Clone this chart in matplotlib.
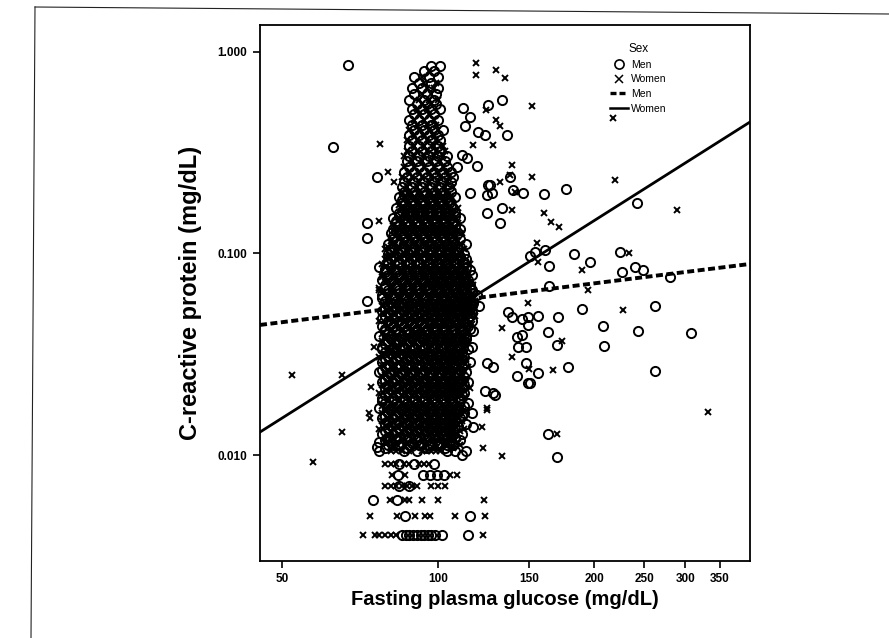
import matplotlib
matplotlib.use('Agg')
import matplotlib.pyplot as plt
from matplotlib.lines import Line2D

plt.rcParams['font.family'] = ['Liberation Sans', 'DejaVu Sans']

# ---------------- data ----------------
x_ticks = [50, 100, 150, 200, 250, 300, 350]
x_tick_labels = ['50', '100', '150', '200', '250', '300', '350']
y_ticks = [0.01, 0.1, 1.0]
y_tick_labels = ['0.010', '0.100', '1.000']
x_limits = [45.3, 400]
y_limits = [0.00298, 1.36]

# scattered men (circles)
men_glucose = [67.1, 62.7, 76.2, 132.9, 124.9, 111.8, 115.3, 112.7, 119.5, 123.2, 135.9, 111.3,
               113.8, 118.9, 108.8, 106.9, 124.9, 124.4, 137.7, 115.3, 145.9, 139.5, 132.9, 124.4,
               126.0, 127.1, 160.2, 176.6, 242.1, 131.7, 150.5, 153.9, 160.9, 163.8, 183.0, 196.6,
               224.5, 240.0, 248.6, 226.5, 280.4, 163.8, 189.6, 262.3, 136.5, 138.9, 145.2, 149.1,
               156.0, 170.4, 149.1, 208.2, 243.2, 307.7, 163.1, 142.1, 145.2, 169.7, 142.6, 147.5,
               209.1, 147.5, 156.0, 142.1, 178.2, 149.1, 150.5, 262.3, 123.2, 128.8, 163.1, 169.7,
               124.4, 127.7, 127.7, 116.3, 116.8, 72.9, 72.9, 76.9, 79.0, 72.9, 76.9, 80.8, 76.2,
               111.3, 106.9]
men_crp = [0.862, 0.338, 0.240, 0.578, 0.546, 0.527, 0.476, 0.430, 0.401, 0.387, 0.387, 0.308,
           0.298, 0.272, 0.269, 0.240, 0.219, 0.195, 0.240, 0.200, 0.200, 0.207, 0.168, 0.159,
           0.219, 0.200, 0.197, 0.209, 0.178, 0.142, 0.0972, 0.1017, 0.1041, 0.0867, 0.0994, 0.0907,
           0.1017, 0.0857, 0.0829, 0.0810, 0.0764, 0.0690, 0.0530, 0.0549, 0.0513, 0.0484, 0.0473, 0.0484,
           0.0490, 0.0484, 0.0442, 0.0437, 0.0412, 0.0403, 0.0408, 0.0385, 0.0394, 0.0351, 0.0343, 0.0343,
           0.0348, 0.0286, 0.0255, 0.0247, 0.0273, 0.0228, 0.0228, 0.0261, 0.0208, 0.0199, 0.0127, 0.0098,
           0.0286, 0.0273, 0.0204, 0.0162, 0.0138, 0.1417, 0.1194, 0.0857, 0.0838, 0.0581, 0.0116, 0.0119, 0.0110,
           0.0100, 0.0114]

# scattered women (crosses)
women_glucose = [77.3, 80.1, 82.3, 118.4, 118.4, 129.4, 134.7, 123.8, 151.9, 129.4, 131.7, 116.8,
                 127.7, 138.9, 137.7, 131.7, 151.9, 138.9, 140.8, 219.5, 289.2, 160.2, 165.2, 171.2,
                 155.3, 156.0, 189.6, 233.7, 194.8, 149.1, 227.5, 132.9, 173.5, 138.9, 149.8, 166.7,
                 124.4, 331.9, 169.7, 132.9, 122.2, 121.6, 76.9, 79.7, 76.9, 75.2, 65.3, 74.3, 73.6,
                 74.0, 65.3, 124.4, 52.3, 57.4, 217.7]
women_crp = [0.3495, 0.2538, 0.2264, 0.882, 0.769, 0.814, 0.743, 0.516, 0.540, 0.460, 0.430, 0.3455,
             0.3455, 0.275, 0.245, 0.226, 0.240, 0.164, 0.202, 0.232, 0.164, 0.159, 0.1433, 0.1353,
             0.1127, 0.0907, 0.0828, 0.1006, 0.0659, 0.0568, 0.0525, 0.0427, 0.0368, 0.0306, 0.0267, 0.0265,
             0.0167, 0.0163, 0.0127, 0.0099, 0.0108, 0.0138, 0.145, 0.0972, 0.0674, 0.0343, 0.0249, 0.0218, 0.0162,
             0.0153, 0.0130, 0.0171, 0.0249, 0.0092, 0.470]

# dense core of the cloud: (CRP, men glucose values, women glucose values)
core_rows = [
    (0.0105, "77 86 91 104 108 113", "81 83 85 88 93 95 97 99 101"),
    (0.0112, "80 84 88 92 96 100 104 107", "82 86 90 94 98 102 110"),
    (0.0119, "79 83 87 91 95 99 103 106 110", "81 85 89 93 97 101 105 108"),
    (0.0127, "78 82 86 90 94 98 102 106 111", "80 84 88 92 96 100 104 108"),
    (0.0135, "80 84 88 92 96 100 104 108", "77 82 86 90 94 98 102 106 112"),
    (0.0143, "79 83 87 91 95 99 103 107 113", "81 85 89 93 97 101 105 109"),
    (0.0152, "78 82 86 90 94 98 102 106 110", "80 84 88 92 96 100 104 108"),
    (0.0161, "80 84 88 92 96 100 104 108 112", "78 82 86 90 94 98 102 106 110"),
    (0.0171, "77 81 85 89 93 97 101 105 109", "79 83 87 91 95 99 103 107 111"),
    (0.0181, "79 83 87 91 95 99 103 107 114", "81 85 89 93 97 101 105 109"),
    (0.0192, "78 82 86 90 94 98 102 106 110", "80 84 88 92 96 100 104 108 112"),
    (0.0204, "80 84 88 92 96 100 104 108 112", "77 82 86 90 94 98 102 106 110"),
    (0.0216, "79 83 87 91 95 99 103 107 111", "81 85 89 93 97 101 105 109 115"),
    (0.0229, "78 82 86 90 94 98 102 106 110 114", "80 84 88 92 96 100 104 108 112"),
    (0.0243, "80 84 88 92 96 100 104 108 112", "78 82 86 90 94 98 102 106 110"),
    (0.0258, "77 81 85 89 93 97 101 105 109 113", "79 83 87 91 95 99 103 107 111"),
    (0.0273, "79 83 87 91 95 99 103 107 111", "81 85 89 93 97 101 105 109 114"),
    (0.0290, "78 82 86 90 94 98 102 106 110 115", "80 84 88 92 96 100 104 108 112"),
    (0.0307, "80 84 88 92 96 100 104 108 112", "77 82 86 90 94 98 102 106 110"),
    (0.0326, "79 83 87 91 95 99 103 107 111", "81 85 89 93 97 101 105 109 113"),
    (0.0345, "78 82 86 90 94 98 102 106 110 116", "80 84 88 92 96 100 104 108 112"),
    (0.0366, "80 84 88 92 96 100 104 108 112", "78 82 86 90 94 98 102 106 110 114"),
    (0.0388, "77 81 85 89 93 97 101 105 109 113", "79 83 87 91 95 99 103 107 111"),
    (0.0411, "79 83 87 91 95 99 103 107 111 117", "81 85 89 93 97 101 105 109 114"),
    (0.0436, "78 82 86 90 94 98 102 106 110 114", "80 84 88 92 96 100 104 108 112"),
    (0.0462, "80 84 88 92 96 100 104 108 112 116", "77 82 86 90 94 98 102 106 110"),
    (0.0490, "79 83 87 91 95 99 103 107 111 115", "81 85 89 93 97 101 105 109 113 118"),
    (0.0520, "78 82 86 90 94 98 102 106 110 114", "80 84 88 92 96 100 104 108 112 117"),
    (0.0550, "80 84 88 92 96 100 104 108 112 116 120", "78 82 86 90 94 98 102 106 110 114"),
    (0.0584, "79 83 87 91 95 99 103 107 111 115", "81 85 89 93 97 101 105 109 113 118"),
    (0.0620, "78 82 86 90 94 98 102 106 110 114 119", "80 84 88 92 96 100 104 108 112 116"),
    (0.0657, "80 84 88 92 96 100 104 108 112 116", "77 82 86 90 94 98 102 106 110 114"),
    (0.0697, "79 83 87 91 95 99 103 107 111 115", "81 85 89 93 97 101 105 109 113 117"),
    (0.0739, "78 82 86 90 94 98 102 106 110 114", "80 84 88 92 96 100 104 108 112"),
    (0.0784, "80 84 88 92 96 100 104 108 112 116", "78 82 86 90 94 98 102 106 110 114"),
    (0.0831, "79 83 87 91 95 99 103 107 111 115", "81 85 89 93 97 101 105 109 113"),
    (0.0882, "80 84 88 92 96 100 104 108 112", "78 82 86 90 94 98 102 106 110 115"),
    (0.0935, "81 85 89 93 97 101 105 109 113", "79 83 87 91 95 99 103 107 111"),
    (0.0992, "80 84 88 92 96 100 104 108 112", "82 86 90 94 98 102 106 110"),
    (0.105, "81 85 89 93 97 101 105 109", "79 83 87 91 95 99 103 107 112"),
    (0.112, "80 84 88 92 96 100 104 108 113", "82 86 90 94 98 102 106 110"),
    (0.118, "82 86 90 94 98 102 106 110", "84 88 92 96 100 104 108"),
    (0.126, "81 85 89 93 97 101 105 109", "83 87 91 95 99 103 107 111"),
    (0.133, "82 86 90 94 98 102 106 110", "84 88 92 96 100 104 108"),
    (0.141, "83 87 91 95 99 103 107", "85 89 93 97 101 105 109"),
    (0.150, "82 86 90 94 98 102 106 110", "84 88 92 96 100 104 108"),
    (0.159, "84 88 92 96 100 104 108", "86 90 94 98 102 106"),
    (0.168, "83 87 91 95 99 103 107", "85 89 93 97 101 105 109"),
    (0.179, "85 89 93 97 101 105", "87 91 95 99 103 107"),
    (0.190, "84 88 92 96 100 104 108", "86 90 94 98 102 106"),
    (0.201, "86 90 94 98 102 106", "85 88 92 96 100 104"),
    (0.213, "85 89 93 97 101 105", "87 91 95 99 103 107"),
    (0.226, "86 90 94 98 102 106", "88 92 96 100 104"),
    (0.240, "87 91 95 99 103", "85 89 93 97 101 105"),
    (0.255, "86 90 94 98 102 106", "88 92 96 100 104"),
    (0.270, "88 92 96 100 104", "86 90 94 98 102"),
    (0.287, "87 91 95 99 103", "89 93 97 101"),
    (0.305, "88 92 96 100 104", "86 90 94 98 102"),
    (0.323, "89 93 97 101", "87 91 95 99 103"),
    (0.343, "88 92 96 100", "90 94 98 102"),
    (0.364, "89 93 97 101", "87 91 95 99"),
    (0.386, "88 92 96 100", "90 94 98"),
    (0.410, "90 94 98 102", "88 92 96 100"),
    (0.435, "89 93 97", "91 95 99"),
    (0.460, "88 92 96 100", "90 94 98"),
    (0.490, "90 94 98", "92 96"),
    (0.520, "89 93 97 101", "91 95"),
    (0.550, "91 95 99", "93 97"),
    (0.580, "88 94 98", "92 96 100"),
    (0.620, "90 95 99", "93 97"),
    (0.660, "89 93 100", "95 98"),
    (0.700, "92 97", "94 99"),
    (0.750, "90 96 100", "93"),
    (0.800, "94 98", "96"),
    (0.850, "97 101", ""),
]

# further core points lying between the rows above
core_rows_mid = [
    (0.0108, "79 87 95 103", "83 91 99 107"),
    (0.0115, "81 85 89 93 97 101 105", "79 83 87 91 95 99 103 109"),
    (0.0123, "80 84 88 92 96 100 104 108", "82 86 90 94 98 102 106"),
    (0.0131, "79 83 87 91 95 99 103 107", "81 85 89 93 97 101 105 110"),
    (0.0139, "81 85 89 93 97 101 105 109", "79 83 87 91 95 99 103 107"),
    (0.0147, "80 84 88 92 96 100 104 108", "78 82 86 90 94 98 102 106 111"),
    (0.0156, "79 83 87 91 95 99 103 107 111", "81 85 89 93 97 101 105 109"),
    (0.0166, "81 85 89 93 97 101 105 109", "79 83 87 91 95 99 103 107 113"),
    (0.0176, "80 84 88 92 96 100 104 108 112", "78 82 86 90 94 98 102 106 110"),
    (0.0186, "78 82 86 90 94 98 102 106 110", "80 84 88 92 96 100 104 108"),
    (0.0198, "79 83 87 91 95 99 103 107 111", "81 85 89 93 97 101 105 109"),
    (0.0210, "81 85 89 93 97 101 105 109", "79 83 87 91 95 99 103 107 111"),
    (0.0222, "80 84 88 92 96 100 104 108 112", "78 82 86 90 94 98 102 106 110"),
    (0.0236, "79 83 87 91 95 99 103 107 111", "81 85 89 93 97 101 105 109 113"),
    (0.0250, "81 85 89 93 97 101 105 109", "79 83 87 91 95 99 103 107 111"),
    (0.0265, "78 82 86 90 94 98 102 106 110", "80 84 88 92 96 100 104 108 112"),
    (0.0281, "80 84 88 92 96 100 104 108 112", "78 82 86 90 94 98 102 106 110"),
    (0.0298, "79 83 87 91 95 99 103 107 111", "81 85 89 93 97 101 105 109 113"),
    (0.0316, "81 85 89 93 97 101 105 109", "79 83 87 91 95 99 103 107 111"),
    (0.0335, "78 82 86 90 94 98 102 106 110 114", "80 84 88 92 96 100 104 108 112"),
    (0.0355, "79 83 87 91 95 99 103 107 111", "81 85 89 93 97 101 105 109 113"),
    (0.0377, "81 85 89 93 97 101 105 109 113", "79 83 87 91 95 99 103 107 111"),
    (0.0400, "80 84 88 92 96 100 104 108 112", "78 82 86 90 94 98 102 106 110 114"),
    (0.0423, "79 83 87 91 95 99 103 107 111 115", "81 85 89 93 97 101 105 109 113"),
    (0.0449, "81 85 89 93 97 101 105 109 113", "79 83 87 91 95 99 103 107 111 116"),
    (0.0476, "78 82 86 90 94 98 102 106 110 114", "80 84 88 92 96 100 104 108 112"),
    (0.0505, "80 84 88 92 96 100 104 108 112 116", "78 82 86 90 94 98 102 106 110 114"),
    (0.0535, "79 83 87 91 95 99 103 107 111 115", "81 85 89 93 97 101 105 109 113 118"),
    (0.0567, "81 85 89 93 97 101 105 109 113 117", "79 83 87 91 95 99 103 107 111 115"),
    (0.0602, "78 82 86 90 94 98 102 106 110 114", "80 84 88 92 96 100 104 108 112 116"),
    (0.0638, "80 84 88 92 96 100 104 108 112 116", "78 82 86 90 94 98 102 106 110 114"),
    (0.0677, "79 83 87 91 95 99 103 107 111 115", "81 85 89 93 97 101 105 109 113"),
    (0.0718, "81 85 89 93 97 101 105 109 113", "79 83 87 91 95 99 103 107 111 115"),
    (0.0761, "80 84 88 92 96 100 104 108 112", "78 82 86 90 94 98 102 106 110 114"),
    (0.0807, "79 83 87 91 95 99 103 107 111", "81 85 89 93 97 101 105 109 113"),
    (0.0856, "81 85 89 93 97 101 105 109 113", "79 83 87 91 95 99 103 107 111"),
    (0.0908, "80 84 88 92 96 100 104 108 112", "82 86 90 94 98 102 106 110"),
    (0.0963, "82 86 90 94 98 102 106 110", "80 84 88 92 96 100 104 108"),
    (0.102, "81 85 89 93 97 101 105 109", "83 87 91 95 99 103 107 111"),
    (0.108, "82 86 90 94 98 102 106 110", "80 84 88 92 96 100 104 108"),
    (0.115, "83 87 91 95 99 103 107", "81 85 89 93 97 101 105 109"),
    (0.122, "82 86 90 94 98 102 106", "84 88 92 96 100 104 108"),
    (0.129, "83 87 91 95 99 103 107", "85 89 93 97 101 105 109"),
    (0.137, "84 88 92 96 100 104 108", "82 86 90 94 98 102 106"),
    (0.145, "83 87 91 95 99 103 107", "85 89 93 97 101 105"),
    (0.154, "84 88 92 96 100 104 108", "86 90 94 98 102 106"),
    (0.163, "85 89 93 97 101 105", "87 91 95 99 103 107"),
    (0.173, "86 90 94 98 102 106", "84 88 92 96 100 104"),
    (0.184, "85 89 93 97 101 105", "87 91 95 99 103"),
    (0.195, "86 90 94 98 102", "88 92 96 100 104"),
]

# discrete lowest CRP values: (CRP, men glucose, women glucose)
low_rows = [
    (0.009, "84 90 98", "79 81 83 86 88 92 94 96"),
    (0.008, "83.5 93.5 96.5 99.6 102.5", "81.5 86.4 105.5 108.7"),
    (0.007, "84 88", "79 81 83 85 87 89 91 97 100 103"),
    (0.006, "74.9 83.3", "80.8 86.4 87.7 93.1 100 122.8"),
    (0.005, "86.4 115.3", "74 83.3 90.3 94.4 96.5 108 123"),
    (0.004, "85 86.5 88 89.5 91 92.5 94 95.5 97 98.5 101.8 114", "71.7 75.6 77 79 81 83 122"),
]

# fitted regression lines (end points read at the plot edges)
men_line_glucose = [45.3, 400]
men_line_crp = [0.0442, 0.0887]
women_line_glucose = [45.3, 400]
women_line_crp = [0.0130, 0.449]

# ---------------- assemble ----------------
mg, mc = list(men_glucose), list(men_crp)
wg, wc = list(women_glucose), list(women_crp)
for crp, ms, ws in core_rows + core_rows_mid + low_rows:
    for v in ms.split():
        mg.append(float(v)); mc.append(crp)
    for v in ws.split():
        wg.append(float(v)); wc.append(crp)

# ---------------- figure ----------------
fig = plt.figure(figsize=(8.89, 6.38), dpi=100)
ax = fig.add_axes([260 / 889, 1 - 561 / 638, 490 / 889, 536 / 638])
ax.set_xscale('log')
ax.set_yscale('log')

ax.plot(mg, mc, linestyle='none', marker='o', markersize=6.6, markerfacecolor='none',
        markeredgecolor='black', markeredgewidth=1.4, zorder=2)
ax.plot(wg, wc, linestyle='none', marker='x', markersize=5.0,
        markeredgecolor='black', markeredgewidth=1.4, zorder=2)

ax.plot(men_line_glucose, men_line_crp, color='black', linewidth=2.8,
        linestyle=(0, (1.8, 0.9)), solid_capstyle='butt', dash_capstyle='butt', zorder=3)
ax.plot(women_line_glucose, women_line_crp, color='black', linewidth=2.0, zorder=3)

ax.set_xlim(*x_limits)
ax.set_ylim(*y_limits)
ax.xaxis.set_major_locator(matplotlib.ticker.FixedLocator(x_ticks))
ax.xaxis.set_minor_locator(matplotlib.ticker.NullLocator())
ax.set_xticklabels(x_tick_labels)
ax.yaxis.set_major_locator(matplotlib.ticker.FixedLocator(y_ticks))
ax.yaxis.set_minor_locator(matplotlib.ticker.NullLocator())
ax.set_yticklabels(y_tick_labels)

for s in ax.spines.values():
    s.set_linewidth(1.3)
ax.tick_params(axis='both', which='major', direction='out', length=5, width=1.2,
               labelsize=8.5, pad=4)
for lab in ax.get_xticklabels() + ax.get_yticklabels():
    lab.set_fontweight('bold')

ax.set_xlabel('Fasting plasma glucose (mg/dL)', fontsize=14.5, fontweight='bold', labelpad=3)
ax.set_ylabel('C-reactive protein (mg/dL)', fontsize=17, fontweight='bold', labelpad=11)

handles = [
    Line2D([], [], linestyle='none', marker='o', markersize=6.6, markerfacecolor='none',
           markeredgecolor='black', markeredgewidth=1.2),
    Line2D([], [], linestyle='none', marker='x', markersize=6.0, markeredgecolor='black',
           markeredgewidth=1.1),
    Line2D([], [], color='black', linewidth=2.4, linestyle=(0, (1.8, 0.9))),
    Line2D([], [], color='black', linewidth=1.8),
]
leg = ax.legend(handles, ['Men', 'Women', 'Men', 'Women'], title='Sex', frameon=False,
                loc='upper left', bbox_to_anchor=(0.70, 0.98), fontsize=7.5,
                title_fontsize=8.5, handlelength=1.7, handletextpad=0.3, labelspacing=0.45,
                borderpad=0.2)

# border of the scanned page
fig.add_artist(Line2D([35 / 889, 889 / 889], [1 - 7 / 638, 1 - 14 / 638], color='#222222',
                      linewidth=0.8))
fig.add_artist(Line2D([35 / 889, 31 / 889], [1 - 7 / 638, 0.0], color='#222222', linewidth=0.8))

fig.savefig('out.png', dpi=100)
